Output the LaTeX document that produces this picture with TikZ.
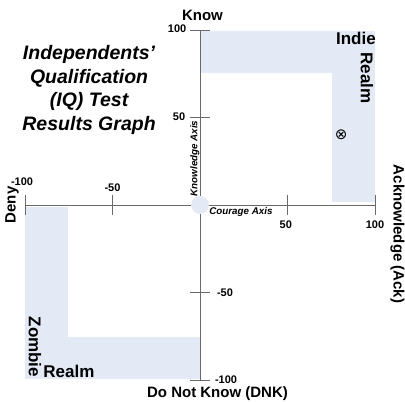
\documentclass[tikz,border=0pt]{standalone}
\usepackage{fontspec}
\setmainfont{Liberation Sans}
\newfontfamily\symfont{DejaVu Sans}
\usetikzlibrary{positioning}
\definecolor{realmblue}{RGB}{227,234,246}
\definecolor{axisgray}{RGB}{105,105,105}
\tikzstyle{axisline} = [draw=axisgray, line width=0.8pt]
\tikzstyle{ticklabel} = [font=\bfseries\fontsize{11}{11}\selectfont, inner sep=0]
\tikzstyle{axislabel} = [font=\bfseries\fontsize{15}{15}\selectfont, inner sep=0]
\tikzstyle{axisname} = [font=\bfseries\itshape\fontsize{9.8}{10}\selectfont, inner sep=0]
\tikzstyle{realmlabel} = [font=\bfseries\fontsize{17}{17}\selectfont, inner sep=0]
\tikzstyle{realm} = [fill=realmblue]
\tikzset{title/.style={font=\bfseries\itshape\fontsize{19.5}{23.5}\selectfont, align=center, inner sep=0}}

\begin{document}
\begin{tikzpicture}[x=1.75pt, y=1.75pt]
  \useasboundingbox (-114.29,-112.57) rectangle (117.14,117.14);
  % Realms
  \fill[realm] (0,75.5) rectangle (100,99.5);
  \fill[realm] (75.5,1.5) rectangle (100,99.5);
  \fill[realm] (-100,-99.5) rectangle (0,-75.5);
  \fill[realm] (-100,-99.5) rectangle (-75.5,-1);
  % Axes
  \coordinate (deny) at (-100,0);
  \coordinate (ack) at (100,0);
  \coordinate (know) at (0,100);
  \coordinate (dnk) at (0,-100);
  \draw[axisline] (deny) -- (ack);
  \draw[axisline] (dnk) -- (know);
  % Ticks
  \foreach \t in {-100, -50, 50, 100} {
    \draw[axisline] (\t,-5.7) -- (\t,5.7);
    \draw[axisline] (-5.7,\t) -- (5.7,\t);
  }
  \node[circle, fill=realmblue, minimum size=18pt, inner sep=0] (origin) at (0,0) {};
  % Tick labels
  \node[ticklabel] (xm100) at (-101.7,13.1) {-100};
  \node[ticklabel] (xm50) at (-50,9.7) {-50};
  \node[ticklabel] (x50) at (49,-11.4) {50};
  \node[ticklabel] (x100) at (100,-11.4) {100};
  \node[ticklabel] (y100) at (-13.1,100.6) {100};
  \node[ticklabel] (y50) at (-12,50.3) {50};
  \node[ticklabel] (ym50) at (14.3,-50.3) {-50};
  \node[ticklabel] (ym100) at (14.9,-99.6) {-100};
  % Axis labels
  \node[axislabel] (knowlabel) at (1.4,108.6) {Know};
  \node[axislabel] (dnklabel) at (10,-107.9) {Do Not Know (DNK)};
  \node[axislabel, rotate=90] (denylabel) at (-107.4,0) {Deny};
  \node[axislabel, rotate=-90] (acklabel) at (112.9,-16.6) {Acknowledge (Ack)};
  \node[axisname, rotate=90] (knowaxis) at (-2.9,26.6) {Knowledge Axis};
  \node[axisname] (courageaxis) at (23.4,-4) {Courage Axis};
  % Realm labels
  \node[realmlabel] (indie) at (89.1,94.9) {Indie};
  \node[realmlabel, rotate=-90] (indierealm) at (95.4,72.6) {Realm};
  \node[realmlabel, rotate=-90] (zombie) at (-94.3,-81.1) {Zombie};
  \node[realmlabel] (zombierealm) at (-74.9,-95.3) {Realm};
  % Result
  \node[font=\symfont\fontsize{15}{15}\selectfont, inner sep=0] (result) at (80.6,40) {⊗};
  % Title
  \node[title] (titletext) at (-63.4,65.7) {Independents’\\Qualification\\(IQ) Test\\Results Graph};
\end{tikzpicture}
\end{document}
